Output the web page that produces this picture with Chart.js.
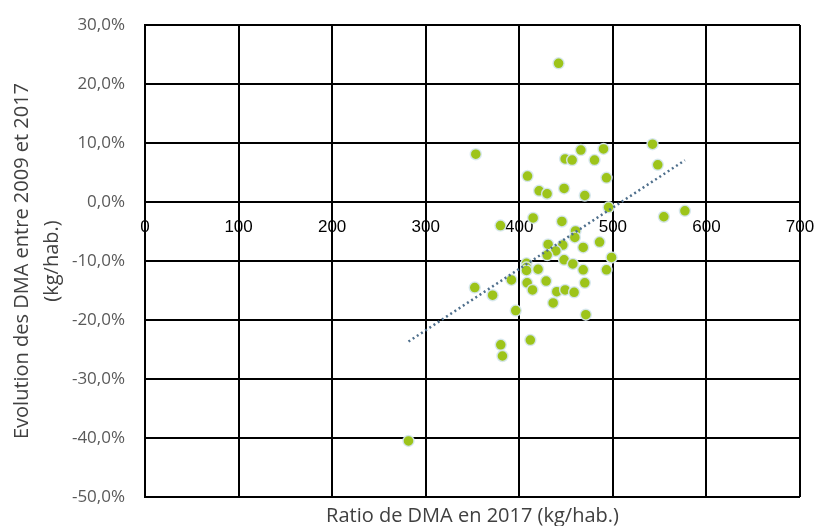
<!DOCTYPE html>
<html>
<head>
<meta charset="utf-8">
<script src="https://cdn.jsdelivr.net/npm/chart.js@4/dist/chart.umd.min.js"></script>
<style>
    body { margin: 0; background: #fff; }
    #box { width: 815px; height: 526px; }
</style>
</head>
<body>
<div id="box"><canvas id="graficoDMA"></canvas></div>
<script>
// ratio DMA 2017 (kg/hab.)
const ratioDMA = [442, 353.5, 465.8, 490, 542.4, 449, 456.5, 480.4, 548, 408.8,
    493.2, 421.2, 429.7, 447.9, 470, 495.4, 414.8, 554.5, 577, 379.9,
    445.5, 460.1, 459.4, 430.8, 446.5, 468.3, 485.8, 439, 429.8, 447.9,
    457.2, 498.6, 407.7, 407.7, 407.7, 420.1, 468.3, 493.2, 391.6, 408.4,
    428.7, 470, 352.4, 414.1, 440.1, 449, 458.6, 371.5, 436.2, 396.2,
    471.1, 380.2, 382, 411.8, 281.6]
// evolution 2009-2017 (%)
const evolutionDMA = [23.5, 8.1, 8.8, 9.0, 9.8, 7.3, 7.1, 7.1, 6.3, 4.4,
    4.1, 1.9, 1.4, 2.3, 1.1, -0.9, -2.7, -2.5, -1.5, -4.0,
    -3.3, -4.9, -6.0, -7.2, -7.3, -7.7, -6.8, -8.3, -9.0, -9.8,
    -10.5, -9.4, -10.4, -11.1, -11.6, -11.4, -11.5, -11.5, -13.2, -13.7,
    -13.4, -13.7, -14.5, -14.9, -15.2, -14.9, -15.3, -15.8, -17.1, -18.4,
    -19.1, -24.2, -26.1, -23.4, -40.5]

const xTicks = [0, 100, 200, 300, 400, 500, 600, 700]
const yTicks = [30, 20, 10, 0, -10, -20, -30, -40, -50]

let pontos = []
for (let i = 0; i < ratioDMA.length; i++) {
    pontos.push({ x: ratioDMA[i], y: evolutionDMA[i] })
}

// courbe de tendance linéaire (moindres carrés, comme Excel)
let n = ratioDMA.length, sx = 0, sy = 0, sxy = 0, sxx = 0
for (let i = 0; i < n; i++) {
    sx += ratioDMA[i]; sy += evolutionDMA[i]
    sxy += ratioDMA[i] * evolutionDMA[i]; sxx += ratioDMA[i] * ratioDMA[i]
}
const pente = (n * sxy - sx * sy) / (n * sxx - sx * sx)
const origine = (sy - pente * sx) / n
const xMin = Math.min(...ratioDMA), xMax = Math.max(...ratioDMA)
const tendance = [
    { x: xMin, y: origine + pente * xMin },
    { x: xMax, y: origine + pente * xMax }
]

function semPadding(axis) {
    axis.paddingLeft = 0
    axis.paddingRight = 0
}

const grafico = document.getElementById("graficoDMA")

new Chart(grafico, {
    type: 'scatter',
    data: {
        datasets: [
            {
                data: pontos,
                backgroundColor: '#9dc41a',
                borderColor: 'rgba(215,232,242,0.9)',
                borderWidth: 1.5,
                pointRadius: 5.5,
                order: 2
            },
            {
                type: 'line',
                data: tendance,
                borderColor: '#4f6f8c',
                borderWidth: 2.5,
                borderDash: [2, 3],
                pointRadius: 0,
                fill: false,
                order: 1
            }
        ]
    },
    options: {
        responsive: true,
        maintainAspectRatio: false,
        animation: false,
        layout: {
            padding: { top: 25, right: 15, left: 7, bottom: 0 }
        },
        plugins: {
            legend: { display: false },
            tooltip: { enabled: false }
        },
        scales: {
            x: {
                type: 'linear',
                position: { y: 0 },
                min: 0,
                max: 700,
                afterBuildTicks: function (axis) {
                    axis.ticks = xTicks.map(v => ({ value: v }))
                },
                afterFit: semPadding,
                ticks: {
                    padding: 15,
                    color: '#000',
                    font: { family: 'Liberation Sans', size: 17 }
                },
                grid: {
                    color: '#000',
                    lineWidth: 2,
                    drawTicks: false
                },
                border: { color: '#000', width: 2 }
            },
            x2: {
                type: 'linear',
                position: 'bottom',
                min: 0,
                max: 700,
                afterFit: semPadding,
                ticks: { display: false },
                grid: { display: false, drawTicks: false },
                border: { display: false },
                title: {
                    display: true,
                    text: 'Ratio de DMA en 2017 (kg/hab.)',
                    color: '#404040',
                    font: { family: 'Open Sans', size: 20, lineHeight: 1 },
                    padding: { top: 9, bottom: 0 }
                }
            },
            y: {
                min: -50,
                max: 30,
                afterBuildTicks: function (axis) {
                    axis.ticks = yTicks.map(v => ({ value: v }))
                },
                afterFit: function (axis) {
                    axis.width = 138
                    axis.paddingTop = 0
                    axis.paddingBottom = 0
                },
                ticks: {
                    padding: 20,
                    color: '#595959',
                    font: { family: 'Open Sans', size: 17 },
                    callback: function (v) {
                        return v.toFixed(1).replace('.', ',') + '%'
                    }
                },
                grid: {
                    color: '#000',
                    lineWidth: 2,
                    drawTicks: false
                },
                border: { color: '#000', width: 2 },
                title: {
                    display: true,
                    text: ['Evolution des DMA entre 2009 et 2017', '(kg/hab.)'],
                    color: '#404040',
                    font: { family: 'Open Sans', size: 20, lineHeight: 1.5 },
                    padding: { top: 0, bottom: 11 }
                }
            }
        }
    }
});
</script>
</body>
</html>
